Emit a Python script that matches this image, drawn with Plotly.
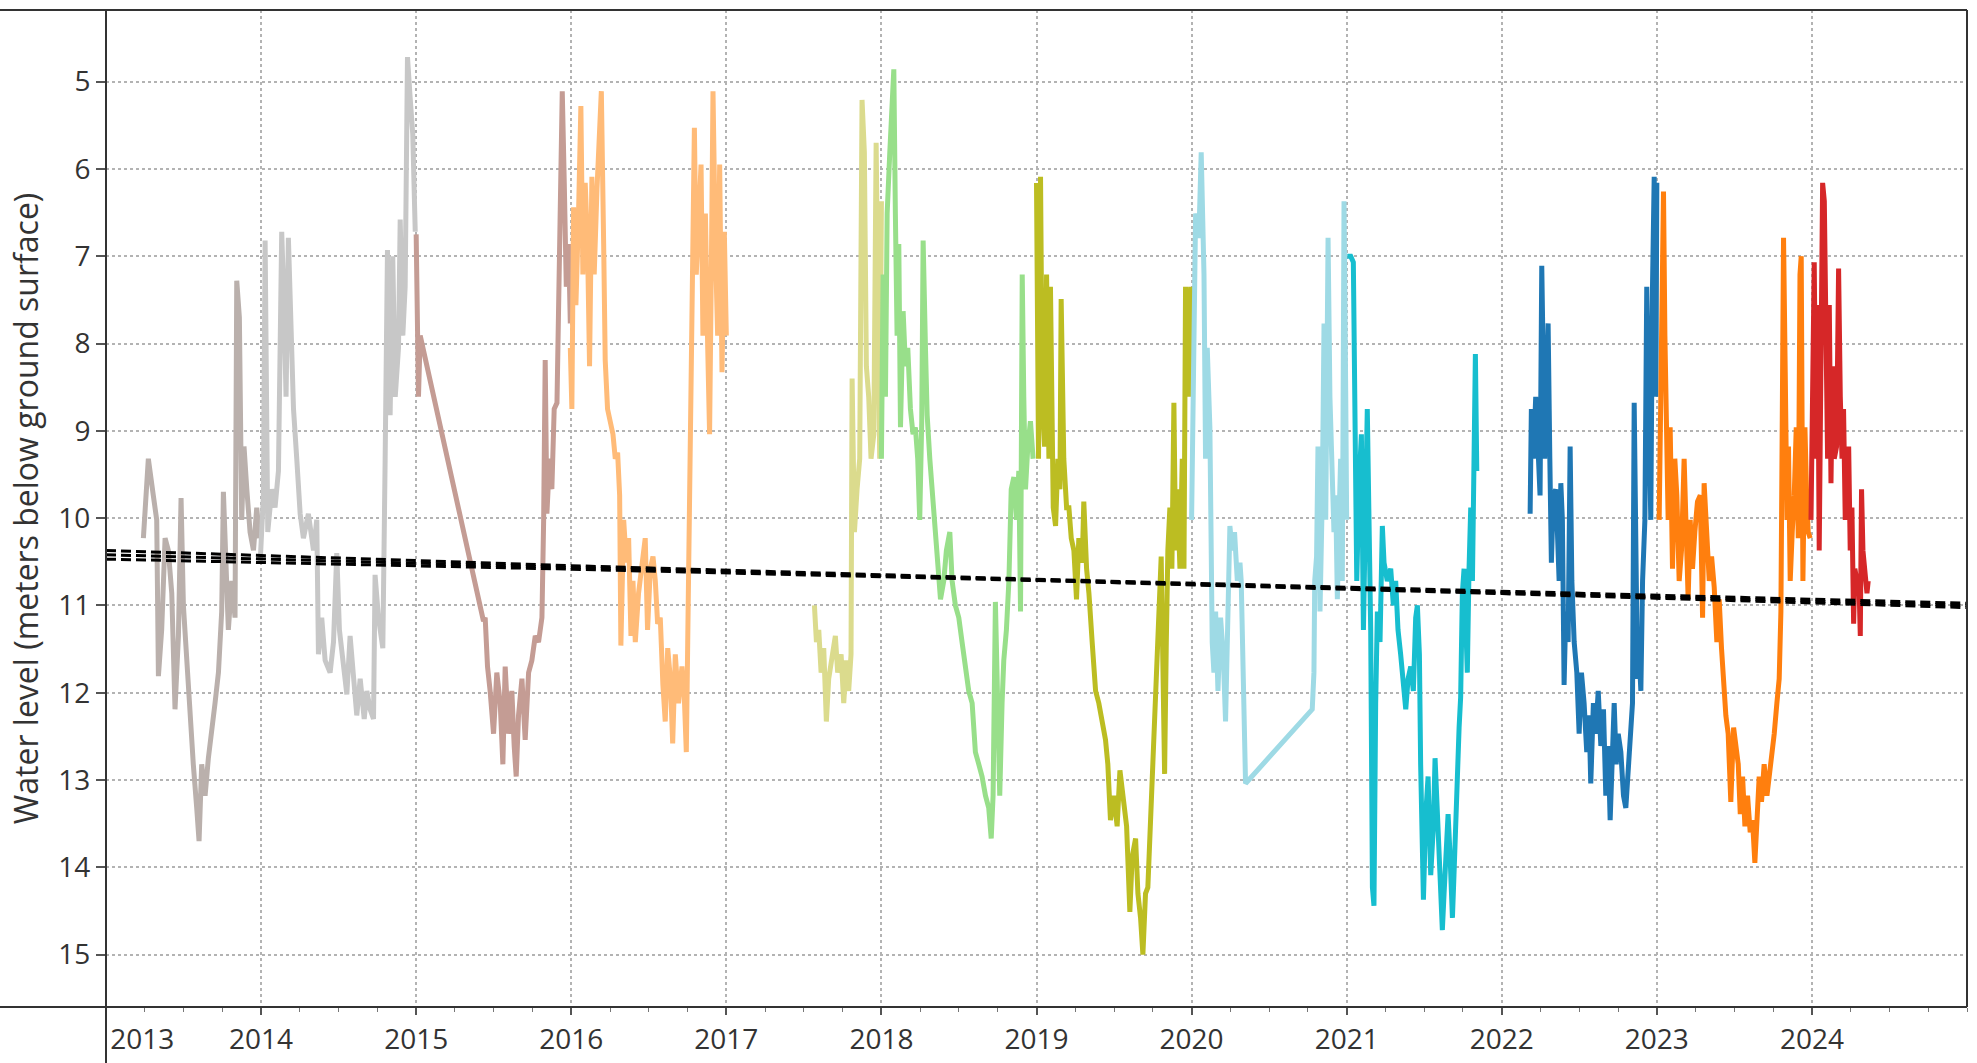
import plotly.graph_objects as go

# ---------------- data (decimal year, metres below ground surface) ----------------
x_2013 = [2013.241, 2013.273, 2013.305, 2013.327, 2013.338, 2013.359, 2013.381, 2013.402, 2013.424, 2013.445,
          2013.467, 2013.484, 2013.499, 2013.525, 2013.546, 2013.563, 2013.585, 2013.600, 2013.617, 2013.639,
          2013.660, 2013.682, 2013.703, 2013.725, 2013.746, 2013.757, 2013.774, 2013.789, 2013.811, 2013.832,
          2013.843, 2013.860, 2013.875, 2013.890, 2013.908, 2013.929, 2013.951, 2013.972, 2013.989]
y_2013 = [10.23, 9.32, 9.74, 10.02, 11.81, 11.28, 10.23, 10.37, 10.86, 12.19,
          11.35, 9.77, 11.00, 11.77, 12.47, 12.82, 13.32, 13.70, 12.82, 13.18,
          12.75, 12.47, 12.12, 11.77, 11.07, 9.70, 10.51, 11.28, 10.72, 11.14,
          7.28, 7.70, 10.02, 9.18, 9.67, 10.16, 10.37, 9.88, 10.23]

x_2014 = [2013.994, 2014.015, 2014.026, 2014.043, 2014.069, 2014.090, 2014.112, 2014.133, 2014.148, 2014.161,
          2014.176, 2014.191, 2014.209, 2014.230, 2014.252, 2014.273, 2014.305, 2014.338, 2014.359, 2014.370,
          2014.391, 2014.413, 2014.445, 2014.467, 2014.488, 2014.505, 2014.531, 2014.553, 2014.574, 2014.596,
          2014.617, 2014.639, 2014.665, 2014.682, 2014.703, 2014.725, 2014.735, 2014.757, 2014.785, 2014.800,
          2014.815, 2014.832, 2014.849, 2014.865, 2014.886, 2014.897, 2014.914, 2014.929, 2014.944, 2014.961,
          2014.978, 2014.994]
y_2014 = [10.51, 9.74, 6.82, 10.16, 9.67, 9.88, 9.46, 6.72, 7.56, 8.61,
          6.79, 7.56, 8.75, 9.32, 9.95, 10.23, 9.95, 10.37, 10.02, 11.56,
          11.14, 11.63, 11.77, 11.42, 10.40, 11.28, 11.70, 12.02, 11.35, 11.77,
          12.26, 11.84, 12.30, 11.98, 12.19, 12.30, 10.65, 11.14, 11.49, 9.32,
          6.93, 8.82, 7.00, 8.61, 8.05, 6.58, 7.91, 7.35, 4.72, 5.18,
          5.60, 6.72]

x_2015 = [2015.000, 2015.015, 2015.026, 2015.434, 2015.445, 2015.460, 2015.477, 2015.499, 2015.520, 2015.542,
          2015.559, 2015.574, 2015.596, 2015.617, 2015.632, 2015.645, 2015.660, 2015.682, 2015.703, 2015.725,
          2015.746, 2015.768, 2015.789, 2015.811, 2015.822, 2015.832, 2015.843, 2015.860, 2015.875, 2015.890,
          2015.908, 2015.918, 2015.933, 2015.942, 2015.955, 2015.968, 2015.983, 2015.994]
y_2015 = [6.75, 8.61, 7.91, 11.18, 11.14, 11.70, 11.98, 12.47, 11.77, 12.12,
          12.82, 11.70, 12.47, 11.98, 12.61, 12.96, 12.26, 11.84, 12.54, 11.77,
          11.63, 11.35, 11.42, 11.14, 10.02, 8.19, 9.95, 9.32, 9.67, 8.75,
          8.68, 7.35, 6.09, 5.11, 6.16, 7.35, 6.86, 7.77]

x_2016 = [2015.994, 2016.004, 2016.015, 2016.030, 2016.047, 2016.062, 2016.075, 2016.090, 2016.105, 2016.118,
          2016.133, 2016.148, 2016.166, 2016.178, 2016.194, 2016.209, 2016.219, 2016.234, 2016.252, 2016.269,
          2016.284, 2016.299, 2016.312, 2016.320, 2016.338, 2016.355, 2016.370, 2016.385, 2016.398, 2016.413,
          2016.434, 2016.456, 2016.477, 2016.492, 2016.510, 2016.527, 2016.542, 2016.557, 2016.574, 2016.591,
          2016.606, 2016.622, 2016.639, 2016.654, 2016.671, 2016.692, 2016.714, 2016.729, 2016.742, 2016.751,
          2016.763, 2016.772, 2016.785, 2016.794, 2016.806, 2016.822, 2016.837, 2016.849, 2016.865, 2016.880,
          2016.892, 2016.903, 2016.914, 2016.929, 2016.944, 2016.957, 2016.972, 2016.987, 2017.000]
y_2016 = [8.05, 8.75, 6.44, 7.56, 6.51, 5.28, 7.21, 6.16, 6.86, 8.26,
          6.09, 7.21, 6.23, 5.81, 5.11, 6.86, 8.19, 8.75, 8.89, 9.04,
          9.32, 9.25, 9.74, 11.46, 10.02, 10.51, 10.23, 11.35, 10.72, 11.42,
          10.86, 10.51, 10.23, 11.28, 10.58, 10.44, 10.72, 11.21, 11.14, 11.91,
          12.33, 11.49, 11.84, 12.58, 11.56, 12.12, 11.70, 12.05, 12.68, 11.42,
          10.02, 8.40, 6.72, 5.53, 7.21, 6.51, 5.95, 7.91, 6.51, 8.05,
          9.04, 7.21, 5.11, 6.86, 7.91, 5.95, 8.33, 6.72, 7.91]

x_2017 = [2017.568, 2017.581, 2017.596, 2017.611, 2017.628, 2017.645, 2017.660, 2017.682, 2017.703, 2017.718,
          2017.740, 2017.757, 2017.774, 2017.789, 2017.804, 2017.811, 2017.826, 2017.843, 2017.860, 2017.875,
          2017.890, 2017.903, 2017.918, 2017.933, 2017.951, 2017.966, 2017.978, 2017.989, 2018.000]
y_2017 = [11.00, 11.42, 11.28, 11.77, 11.49, 12.33, 11.84, 11.56, 11.35, 11.77,
          11.56, 12.12, 11.63, 11.98, 11.56, 8.40, 10.16, 9.67, 9.32, 5.21,
          5.81, 8.26, 8.61, 9.32, 9.04, 5.70, 7.21, 9.32, 6.37]

x_2018 = [2018.000, 2018.011, 2018.026, 2018.037, 2018.054, 2018.069, 2018.080, 2018.090, 2018.101, 2018.112,
          2018.123, 2018.140, 2018.155, 2018.170, 2018.187, 2018.204, 2018.219, 2018.234, 2018.247, 2018.260,
          2018.269, 2018.284, 2018.295, 2018.312, 2018.327, 2018.342, 2018.359, 2018.381, 2018.402, 2018.419,
          2018.441, 2018.456, 2018.477, 2018.499, 2018.520, 2018.542, 2018.563, 2018.585, 2018.606, 2018.628,
          2018.649, 2018.671, 2018.692, 2018.708, 2018.720, 2018.735, 2018.746, 2018.763, 2018.778, 2018.789,
          2018.806, 2018.822, 2018.837, 2018.854, 2018.871, 2018.886, 2018.897, 2018.908, 2018.918, 2018.929,
          2018.944, 2018.961, 2018.978]
y_2018 = [9.32, 7.21, 8.61, 6.51, 5.81, 5.25, 4.86, 6.51, 7.91, 6.86,
          8.96, 7.63, 8.26, 8.05, 8.75, 9.04, 8.96, 9.32, 10.02, 8.89,
          6.82, 8.05, 8.82, 9.32, 9.67, 10.09, 10.51, 10.93, 10.72, 10.37,
          10.16, 10.72, 11.00, 11.14, 11.42, 11.77, 11.98, 12.12, 12.68, 12.82,
          12.96, 13.18, 13.32, 13.67, 13.18, 10.96, 12.12, 13.18, 12.12, 11.63,
          11.28, 10.72, 9.67, 9.53, 10.02, 9.46, 11.07, 7.21, 8.61, 9.67,
          9.18, 8.89, 9.32]

x_2019 = [2019.000, 2019.013, 2019.026, 2019.037, 2019.052, 2019.065, 2019.080, 2019.090, 2019.108, 2019.123,
          2019.138, 2019.151, 2019.159, 2019.176, 2019.194, 2019.209, 2019.224, 2019.241, 2019.258, 2019.273,
          2019.295, 2019.305, 2019.323, 2019.338, 2019.359, 2019.381, 2019.402, 2019.424, 2019.445, 2019.460,
          2019.477, 2019.499, 2019.520, 2019.538, 2019.559, 2019.581, 2019.602, 2019.617, 2019.639, 2019.654,
          2019.671, 2019.686, 2019.703, 2019.718, 2019.804, 2019.815, 2019.826, 2019.837, 2019.847, 2019.860,
          2019.873, 2019.886, 2019.897, 2019.908, 2019.925, 2019.940, 2019.951, 2019.961, 2019.972, 2019.983,
          2019.994]
y_2019 = [6.16, 9.32, 6.09, 8.61, 9.18, 7.21, 9.32, 7.35, 9.88, 10.09,
          9.32, 9.67, 7.49, 9.32, 9.88, 9.88, 10.23, 10.37, 10.93, 10.23,
          10.51, 9.81, 10.58, 10.86, 11.42, 11.98, 12.12, 12.33, 12.54, 12.82,
          13.46, 13.18, 13.53, 12.89, 13.18, 13.53, 14.51, 13.88, 13.67, 14.30,
          14.58, 15.00, 14.30, 14.23, 10.44, 11.77, 12.93, 11.42, 10.37, 9.88,
          10.58, 8.68, 10.37, 9.67, 10.58, 9.32, 10.58, 7.35, 7.91, 8.61,
          7.35]

x_2020 = [2020.000, 2020.011, 2020.026, 2020.047, 2020.062, 2020.080, 2020.090, 2020.101, 2020.118, 2020.133,
          2020.144, 2020.155, 2020.170, 2020.187, 2020.204, 2020.219, 2020.234, 2020.247, 2020.262, 2020.277,
          2020.295, 2020.312, 2020.320, 2020.333, 2020.348, 2020.778, 2020.789, 2020.794, 2020.806, 2020.815,
          2020.828, 2020.843, 2020.854, 2020.865, 2020.880, 2020.892, 2020.908, 2020.918, 2020.929, 2020.940,
          2020.951, 2020.961, 2020.972, 2020.983, 2020.994, 2021.000]
y_2020 = [10.02, 7.91, 6.51, 6.79, 5.81, 7.21, 9.32, 8.05, 8.96, 11.42,
          11.77, 11.07, 11.98, 11.14, 11.56, 12.33, 11.14, 10.09, 10.37, 10.16,
          10.72, 10.51, 10.72, 12.12, 13.04, 12.19, 11.77, 10.72, 10.44, 9.18,
          11.07, 9.74, 7.77, 10.02, 6.79, 8.61, 9.67, 10.16, 9.74, 10.93,
          10.02, 9.32, 10.72, 6.37, 8.61, 10.02]

x_2021 = [2021.004, 2021.026, 2021.043, 2021.052, 2021.065, 2021.080, 2021.095, 2021.108, 2021.123, 2021.133,
          2021.144, 2021.155, 2021.166, 2021.176, 2021.187, 2021.198, 2021.215, 2021.230, 2021.241, 2021.262,
          2021.284, 2021.301, 2021.316, 2021.331, 2021.348, 2021.366, 2021.381, 2021.396, 2021.413, 2021.430,
          2021.445, 2021.456, 2021.469, 2021.477, 2021.495, 2021.510, 2021.525, 2021.542, 2021.559, 2021.570,
          2021.581, 2021.596, 2021.606, 2021.617, 2021.628, 2021.645, 2021.654, 2021.667, 2021.682, 2021.692,
          2021.703, 2021.714, 2021.725, 2021.735, 2021.746, 2021.757, 2021.768, 2021.778, 2021.789, 2021.800,
          2021.811, 2021.822, 2021.830, 2021.839]
y_2021 = [7.00, 7.00, 7.07, 9.32, 10.72, 9.60, 9.04, 11.28, 9.32, 8.75,
          10.02, 11.28, 14.23, 14.44, 12.12, 11.07, 11.42, 10.09, 10.51, 10.72,
          10.58, 11.00, 10.72, 11.28, 11.56, 11.84, 12.19, 11.84, 11.70, 11.98,
          11.14, 11.00, 11.56, 12.82, 14.37, 13.39, 12.96, 14.09, 13.53, 12.75,
          13.25, 13.95, 14.51, 14.72, 14.30, 13.53, 13.39, 13.88, 14.58, 14.09,
          13.39, 12.96, 12.40, 12.05, 10.86, 10.58, 11.42, 11.77, 10.58, 9.88,
          10.72, 9.32, 8.12, 9.46]

x_2022 = [2022.183, 2022.191, 2022.204, 2022.219, 2022.230, 2022.247, 2022.258, 2022.269, 2022.277, 2022.290,
          2022.299, 2022.310, 2022.320, 2022.333, 2022.348, 2022.359, 2022.370, 2022.381, 2022.391, 2022.402,
          2022.413, 2022.428, 2022.441, 2022.452, 2022.467, 2022.484, 2022.499, 2022.514, 2022.531, 2022.548,
          2022.563, 2022.574, 2022.591, 2022.606, 2022.622, 2022.639, 2022.656, 2022.671, 2022.686, 2022.699,
          2022.714, 2022.725, 2022.738, 2022.751, 2022.768, 2022.785, 2022.800, 2022.815, 2022.828, 2022.843,
          2022.854, 2022.865, 2022.875, 2022.886, 2022.897, 2022.908, 2022.923, 2022.935, 2022.951, 2022.961,
          2022.972, 2022.983, 2022.994, 2023.000]
y_2022 = [9.95, 8.75, 9.32, 8.61, 9.04, 9.74, 7.11, 8.61, 9.32, 8.47,
          7.77, 9.32, 10.51, 9.74, 9.67, 10.16, 10.72, 9.60, 10.02, 11.91,
          11.07, 11.42, 9.18, 10.72, 11.42, 11.77, 12.47, 11.77, 12.12, 12.68,
          12.26, 13.04, 12.12, 12.47, 11.98, 12.61, 12.19, 13.18, 12.61, 13.46,
          12.82, 12.12, 12.82, 12.47, 12.68, 13.18, 13.32, 12.82, 12.47, 12.12,
          8.68, 11.07, 11.84, 11.56, 11.98, 10.72, 10.02, 7.35, 8.61, 10.02,
          7.35, 6.09, 8.61, 6.16]

x_2023 = [2023.015, 2023.026, 2023.043, 2023.052, 2023.065, 2023.073, 2023.086, 2023.101, 2023.116, 2023.129,
          2023.144, 2023.159, 2023.176, 2023.189, 2023.202, 2023.215, 2023.230, 2023.245, 2023.262, 2023.280,
          2023.295, 2023.305, 2023.323, 2023.338, 2023.353, 2023.370, 2023.387, 2023.402, 2023.417, 2023.430,
          2023.445, 2023.460, 2023.477, 2023.495, 2023.510, 2023.525, 2023.538, 2023.553, 2023.568, 2023.585,
          2023.602, 2023.617, 2023.632, 2023.645, 2023.660, 2023.675, 2023.692, 2023.710, 2023.725, 2023.740,
          2023.757, 2023.774, 2023.789, 2023.800, 2023.806, 2023.817, 2023.828, 2023.839, 2023.849, 2023.860,
          2023.873, 2023.886, 2023.899, 2023.912, 2023.923, 2023.931, 2023.942, 2023.955, 2023.966, 2023.976,
          2023.989]
y_2023 = [10.02, 8.61, 6.26, 7.91, 9.32, 10.02, 8.96, 10.58, 9.32, 9.74,
          10.72, 10.37, 9.32, 10.16, 10.93, 10.02, 10.58, 10.16, 9.81, 9.74,
          11.14, 9.60, 10.16, 10.72, 10.44, 10.79, 11.42, 10.93, 11.49, 11.98,
          12.26, 12.47, 13.25, 12.40, 12.61, 12.82, 13.39, 12.96, 13.53, 13.18,
          13.60, 13.46, 13.95, 13.39, 12.96, 13.25, 12.82, 13.18, 12.96, 12.68,
          12.47, 12.12, 11.84, 11.07, 8.33, 6.79, 8.33, 10.02, 9.18, 10.72,
          10.16, 9.74, 8.96, 10.23, 7.21, 7.00, 10.72, 8.96, 9.74, 10.16,
          10.23]

x_2024 = [2023.994, 2024.004, 2024.015, 2024.026, 2024.037, 2024.047, 2024.058, 2024.069, 2024.080, 2024.090,
          2024.101, 2024.112, 2024.123, 2024.133, 2024.144, 2024.159, 2024.172, 2024.183, 2024.194, 2024.204,
          2024.215, 2024.226, 2024.237, 2024.247, 2024.258, 2024.269, 2024.277, 2024.290, 2024.305, 2024.312,
          2024.320, 2024.329, 2024.342, 2024.355, 2024.363]
y_2024 = [10.02, 8.61, 7.07, 9.32, 7.56, 10.37, 7.21, 6.16, 6.37, 7.91,
          9.32, 7.56, 9.60, 8.26, 9.32, 9.18, 7.14, 8.61, 9.32, 8.75,
          10.02, 9.32, 9.18, 10.37, 9.88, 11.21, 10.58, 10.72, 10.86, 11.35,
          9.67, 10.37, 10.58, 10.86, 10.72]

# linear trend with its confidence lines
trend_x = [2013.0, 2025.0]
trend_y = [10.42, 11.00]
band_x = [2013.0, 2016.0, 2019.0, 2022.0, 2025.0]
band_upper = [10.37, 10.545, 10.70, 10.84, 10.975]
band_lower = [10.47, 10.585, 10.715, 10.865, 11.025]

year_ticks = list(range(2013, 2025))
depth_ticks = list(range(5, 16))

# ---------------- styling ----------------
series = [
    ("2013", x_2013, y_2013, "#BAB0AC"),
    ("2014", x_2014, y_2014, "#C7C7C7"),
    ("2015", x_2015, y_2015, "#C49C94"),
    ("2016", x_2016, y_2016, "#FFBB78"),
    ("2017", x_2017, y_2017, "#DBDB8D"),
    ("2018", x_2018, y_2018, "#98DF8A"),
    ("2019", x_2019, y_2019, "#BCBD22"),
    ("2020", x_2020, y_2020, "#9EDAE5"),
    ("2021", x_2021, y_2021, "#17BECF"),
    ("2022", x_2022, y_2022, "#1F77B4"),
    ("2023", x_2023, y_2023, "#FF7F0E"),
    ("2024", x_2024, y_2024, "#D62728"),
]

fig = go.Figure()
for name, xs, ys, col in series:
    fig.add_trace(go.Scatter(x=xs, y=ys, mode="lines", name=name,
                             line=dict(color=col, width=5)))

for ys, xs in [(band_upper, band_x), (band_lower, band_x), (trend_y, trend_x)]:
    fig.add_trace(go.Scatter(x=xs, y=ys, mode="lines", hoverinfo="skip",
                             line=dict(color="black", width=3, dash="10px,5px")))

tick_text = ["\u00a0" * 10 + str(year_ticks[0])] + [str(y) for y in year_ticks[1:]]

grid = dict(showgrid=True, gridcolor="#b3b3b3", griddash="dot", gridwidth=1.5,
            zeroline=False, showline=False, automargin=False)

fig.update_layout(
    width=1977, height=1063,
    margin=dict(l=106, r=10, t=10, b=56),
    plot_bgcolor="white", paper_bgcolor="white",
    showlegend=False,
    font=dict(family="Open Sans, sans-serif", size=28, color="#333333"),
    xaxis=dict(range=[2013, 2025], tickmode="array", tickvals=year_ticks, ticktext=tick_text,
               ticks="outside", ticklen=7, tickwidth=1.5, tickcolor="#555555",
               minor=dict(ticks="outside", ticklen=4, tickwidth=1, tickcolor="#777777",
                          dtick=0.25, showgrid=False),
               **grid),
    yaxis=dict(range=[15.6, 4.18], tickmode="array", tickvals=depth_ticks,
               ticks="outside", ticklen=9, tickwidth=1.5, tickcolor="#555555",
               title=dict(text="Water level (meters below ground surface)", standoff=10,
                          font=dict(size=32, color="#333333")),
               **grid),
)

# frame lines in the style of the source dashboard
line_style = dict(color="#333333", width=2)
fig.add_shape(type="line", xref="paper", yref="paper", x0=-0.06, x1=1, y0=1, y1=1, line=line_style)
fig.add_shape(type="line", xref="paper", yref="paper", x0=-0.06, x1=1, y0=0, y1=0, line=line_style)
fig.add_shape(type="line", xref="paper", yref="paper", x0=0, x1=0, y0=-0.07, y1=1, line=line_style)
fig.add_shape(type="line", xref="paper", yref="paper", x0=1, x1=1, y0=0, y1=1, line=line_style)

# page has a default body margin; drop it so the figure sits at the window origin
fig.write_html("out.html", config={"displayModeBar": False},
               post_script="document.body.style.margin='0';")
